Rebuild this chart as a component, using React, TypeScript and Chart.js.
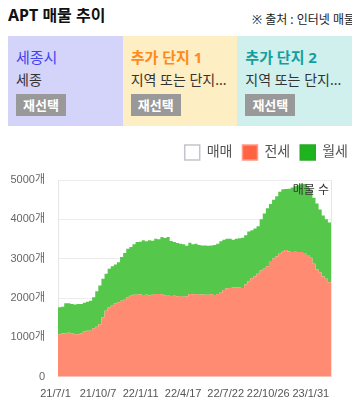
import React, { useEffect, useRef } from 'react';
import { Chart, registerables } from 'chart.js';

Chart.register(...registerables);

const FONT = "'Noto Sans', 'Noto Sans CJK KR', sans-serif";
const TICK_FONT = "'Liberation Sans', 'Noto Sans CJK KR', sans-serif";

const TITLE = 'APT 매물 추이';
const SOURCE = '※ 출처 : 인터넷 매물';
const CORNER_LABEL = '매물 수';

const PANEL_TITLES = ['세종시', '추가 단지 1', '추가 단지 2'];
const PANEL_SUBS = ['세종', '지역 또는 단지...', '지역 또는 단지...'];
const PANEL_BG = ['#d4d4fa', '#feeec3', '#d0f0ee'];
const PANEL_COLOR = ['#4343ee', '#ff8a1c', '#149f9f'];
const PANEL_WEIGHT = [400, 700, 700];
const BUTTON_TEXT = '재선택';

const SERIES_NAMES = ['매매', '전세', '월세'];

// x positions: day index of each (weekly) sample, starting 21/7/1
const SAMPLE_STEP = 7;
const TICK_DAYS = [0, 96, 192, 288, 384, 480, 576];
const TICK_LABELS = ['21/7/1', '21/10/7', '22/1/11', '22/4/17', '22/7/22', '22/10/26', '23/1/31'];

const MAEMAE: number[] = [];
const JEONSE = [
  1083, 1100, 1108, 1117, 1108, 1083, 1083, 1100, 1151, 1168,
  1168, 1236, 1270, 1338, 1508, 1679, 1764, 1806, 1866, 1892,
  1934, 1960, 2019, 2062, 2087, 2087, 2096, 2079, 2087, 2070,
  2087, 2104, 2104, 2096, 2070, 2079, 2053, 2062, 2045, 2053,
  2036, 2045, 2104, 2096, 2104, 2087, 2096, 2087, 2087, 2096,
  2079, 2104, 2138, 2207, 2249, 2258, 2266, 2275, 2275, 2258,
  2343, 2428, 2505, 2547, 2615, 2701, 2743, 2811, 2939, 3007,
  3058, 3127, 3178, 3220, 3186, 3169, 3178, 3169, 3169, 3144,
  3093, 3024, 2871, 2726, 2658, 2547, 2488, 2402, 2370,
];
const WOLSE = [
  681, 680, 758, 749, 741, 757, 766, 749, 732, 741,
  766, 783, 903, 980, 980, 936, 979, 1005, 988, 1021,
  1107, 1184, 1235, 1235, 1278, 1337, 1337, 1388, 1354, 1397,
  1371, 1406, 1388, 1456, 1457, 1473, 1397, 1362, 1354, 1329,
  1329, 1286, 1304, 1269, 1278, 1261, 1243, 1252, 1244, 1243,
  1269, 1278, 1303, 1277, 1261, 1252, 1218, 1235, 1243, 1277,
  1252, 1261, 1218, 1218, 1210, 1299, 1407, 1474, 1451, 1493,
  1532, 1573, 1584, 1550, 1593, 1641, 1667, 1696, 1721, 1756,
  1757, 1736, 1679, 1674, 1592, 1553, 1512, 1518, 1510,
];

const AREA_COLORS = ['#ffffff', '#ff8b72', '#55c84b'];
const LEGEND_FILL = ['#ffffff', '#ff6343', '#1db41d'];
const LEGEND_STROKE = ['#c4c4cc', '#ff9a84', '#2aa82a'];

const cornerLabel = {
  id: 'cornerLabel',
  afterDatasetsDraw(chart: any) {
    const { ctx, chartArea } = chart;
    ctx.save();
    ctx.font = `12px ${FONT}`;
    ctx.fillStyle = '#333';
    ctx.textAlign = 'right';
    ctx.textBaseline = 'middle';
    ctx.fillText(CORNER_LABEL, chartArea.right - 2, chartArea.top + 11);
    ctx.restore();
  },
};

const legendGap = {
  id: 'legendGap',
  beforeInit(chart: any) {
    const legend = chart.legend;
    if (!legend) return;
    const orig = legend.fit;
    legend.fit = function () {
      orig.call(this);
      this.height += 10;
    };
  },
};

function ChartBox() {
  const ref = useRef<HTMLCanvasElement | null>(null);
  useEffect(() => {
    if (!ref.current) return;
    Chart.defaults.font.family = FONT;
    const xs = JEONSE.map((_, i) => i * SAMPLE_STEP);
    const toPts = (arr: number[]) => arr.map((v, i) => ({ x: xs[i], y: v }));
    const chart = new Chart(ref.current, {
      type: 'line',
      data: {
        datasets: [
          {
            label: SERIES_NAMES[0],
            data: toPts(MAEMAE),
            backgroundColor: AREA_COLORS[0],
            borderWidth: 0,
            pointRadius: 0,
            fill: false,
          },
          {
            label: SERIES_NAMES[1],
            data: toPts(JEONSE),
            backgroundColor: AREA_COLORS[1],
            borderColor: AREA_COLORS[1],
            borderWidth: 0,
            pointRadius: 0,
            stepped: true,
            fill: 'origin',
          },
          {
            label: SERIES_NAMES[2],
            data: toPts(WOLSE),
            backgroundColor: AREA_COLORS[2],
            borderColor: AREA_COLORS[2],
            borderWidth: 0,
            pointRadius: 0,
            stepped: true,
            fill: '-1',
          },
        ],
      },
      options: {
        animation: false,
        responsive: true,
        maintainAspectRatio: false,
        layout: { padding: 0 },
        plugins: {
          tooltip: { enabled: false },
          legend: {
            position: 'top',
            align: 'end',
            labels: {
              boxWidth: 15,
              boxHeight: 15,
              padding: 10,
              color: '#555',
              font: { size: 14, family: FONT },
              generateLabels: () =>
                SERIES_NAMES.map((name, i) => ({
                  text: name,
                  fillStyle: LEGEND_FILL[i],
                  strokeStyle: LEGEND_STROKE[i],
                  lineWidth: 1.5,
                  hidden: false,
                  datasetIndex: i,
                  fontColor: '#555',
                })),
            },
          },
        },
        scales: {
          x: {
            type: 'linear',
            min: 0,
            max: xs[xs.length - 1],
            grid: { display: false, drawTicks: false },
            border: { display: false },
            afterBuildTicks: (scale: any) => {
              scale.ticks = TICK_DAYS.map((v) => ({ value: v }));
            },
            ticks: {
              autoSkip: false,
              maxRotation: 0,
              padding: 11,
              labelOffset: -2.5,
              color: '#555',
              font: { size: 11, family: TICK_FONT },
              callback: (v: any) => {
                const i = TICK_DAYS.indexOf(Number(v));
                return i >= 0 ? TICK_LABELS[i] : '';
              },
            },
          },
          y: {
            stacked: true,
            min: 0,
            max: 5000,
            grid: { color: '#ececec', drawTicks: false },
            border: { display: true, color: '#e6e6e6' },
            afterFit: (scale: any) => {
              scale.width = 50;
            },
            ticks: {
              stepSize: 1000,
              padding: 13,
              color: '#666',
              font: { size: 11, family: TICK_FONT },
              callback: (v: any) => (Number(v) === 0 ? '0' : `${v}개`),
            },
          },
          y2: {
            type: 'linear',
            position: 'right',
            display: true,
            grid: { display: false, drawTicks: false },
            border: { display: true, color: '#e6e6e6' },
            ticks: { display: false },
            afterFit: (scale: any) => {
              scale.width = 27;
            },
          },
        },
      },
      plugins: [cornerLabel, legendGap],
    } as any);
    return () => chart.destroy();
  }, []);
  return (
    <div style={{ position: 'relative', width: 350, height: 277, marginTop: 9 }}>
      <canvas ref={ref} />
    </div>
  );
}

export default function App() {
  return (
    <div style={{ fontFamily: FONT, width: 344 }}>
      <div style={{ position: 'relative', height: 28 }}>
        <div
          style={{
            position: 'absolute',
            left: 0,
            top: -3,
            fontSize: 16,
            fontWeight: 700,
            lineHeight: '20px',
            color: '#111',
            whiteSpace: 'nowrap',
          }}
        >
          {TITLE}
        </div>
        <div
          style={{
            position: 'absolute',
            right: -3,
            top: 4,
            fontSize: 12,
            fontWeight: 400,
            lineHeight: '16px',
            color: '#222',
            whiteSpace: 'nowrap',
          }}
        >
          {SOURCE}
        </div>
      </div>
      <div style={{ display: 'flex', height: 90 }}>
        {PANEL_TITLES.map((t, i) => (
          <div
            key={i}
            style={{
              flex: 1,
              background: PANEL_BG[i],
              padding: '10px 8px 0 8px',
              boxSizing: 'border-box',
              overflow: 'hidden',
            }}
          >
            <div
              style={{
                fontSize: 15,
                lineHeight: '22px',
                color: PANEL_COLOR[i],
                fontWeight: PANEL_WEIGHT[i],
                whiteSpace: 'nowrap',
              }}
            >
              {t}
            </div>
            <div
              style={{
                fontSize: 14,
                lineHeight: '20px',
                marginTop: 2,
                color: '#333',
                whiteSpace: 'nowrap',
              }}
            >
              {PANEL_SUBS[i]}
            </div>
            <div
              style={{
                marginTop: 4,
                width: 50,
                height: 22,
                background: '#999',
                color: '#fff',
                fontWeight: 700,
                fontSize: 13,
                lineHeight: '22px',
                textAlign: 'center',
              }}
            >
              {BUTTON_TEXT}
            </div>
          </div>
        ))}
      </div>
      <ChartBox />
    </div>
  );
}
